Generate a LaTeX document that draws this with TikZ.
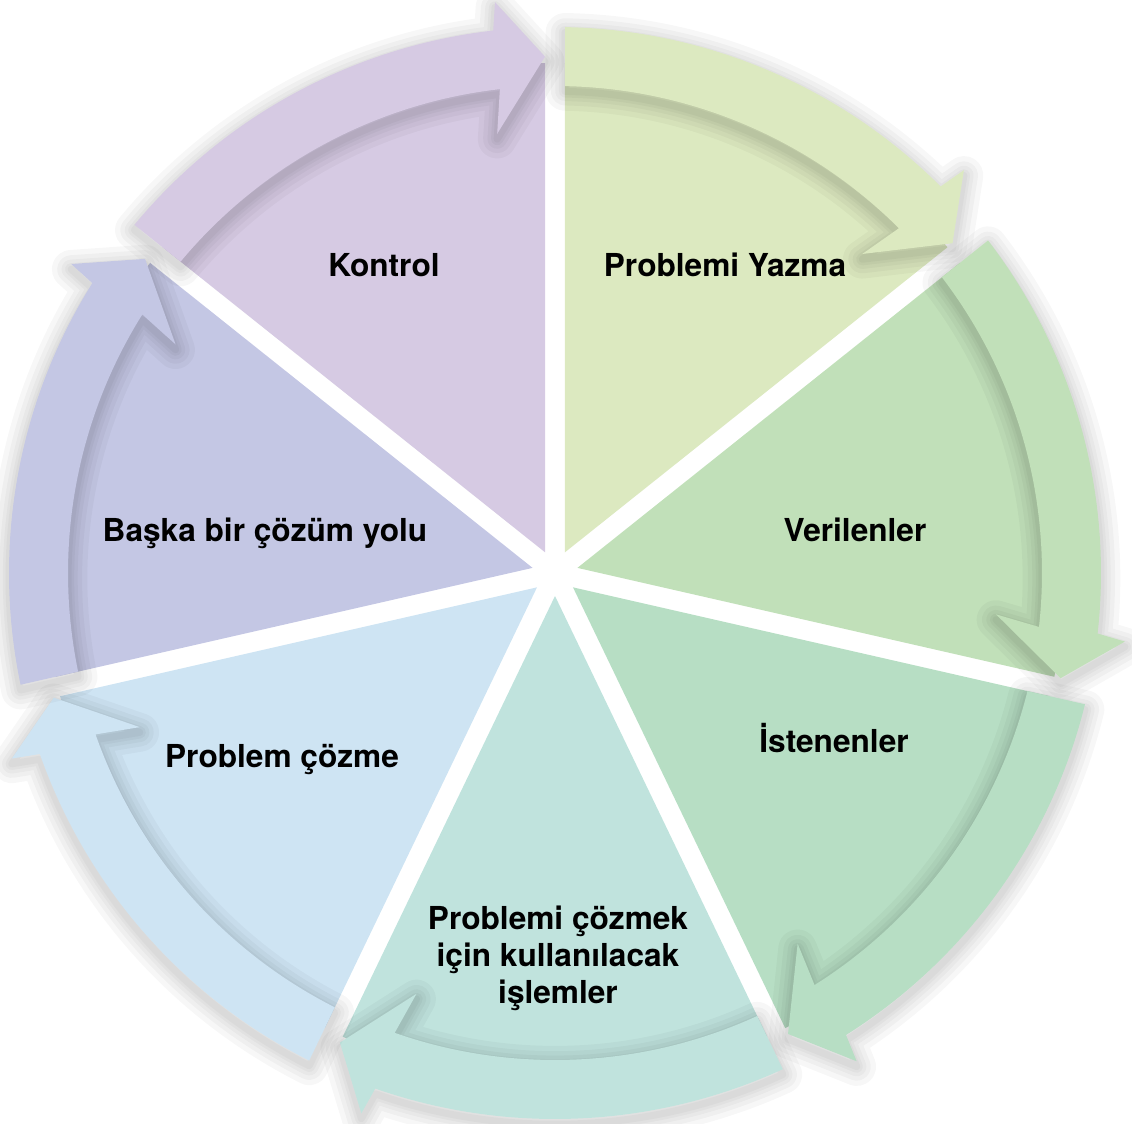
\documentclass[tikz,border=0pt]{standalone}
\usepackage{fontspec}
\setmainfont{TeX Gyre Heros}

\definecolor{kontrol}{HTML}{D6CAE3}
\definecolor{yazma}{HTML}{DCE9C0}
\definecolor{verilen}{HTML}{C1E0B9}
\definecolor{istenen}{HTML}{B7DEC4}
\definecolor{islem}{HTML}{C0E3DD}
\definecolor{cozme}{HTML}{CEE4F3}
\definecolor{baska}{HTML}{C4C7E4}

% one wedge of the wheel: #1 start angle, #2 end angle (clockwise)
\newcommand{\wedgepath}[2]{%
  (#1-25.71:0.46) -- (#1-1.12:10.2)
  arc[start angle=#1-1.12, end angle=#2+1.12, radius=10.2cm] -- cycle}
% the curved arrow on the rim of one wedge
\newcommand{\arrowband}[2]{%
  (#1-1.18:9.74) -- (#1-1.05:10.92)
  arc[start angle=#1-1.05, end angle=#2+6.5, radius=10.92cm]
  -- (#2+6:11.48) -- (#2+1.11:10.33) -- (#2+7.5:8.86) -- (#2+6.5:9.74)
  arc[start angle=#2+6.5, end angle=#1-1.18, radius=9.74cm] -- cycle}

\begin{document}
\begin{tikzpicture}[
  stagetext/.style={font=\fontsize{18}{21}\selectfont\bfseries,
                    align=center, inner sep=0pt},
  glow/.style={draw=black, draw opacity=0.03, line join=round}]
\useasboundingbox (-11.10,-11.00) rectangle (11.54,11.46);

% ============ wedges ============
\foreach \s/\c in {141.43/kontrol, 90/yazma, 38.57/verilen, -12.86/istenen,
                   -64.29/islem, -115.71/cozme, -167.14/baska}{
  \pgfmathsetmacro{\e}{\s-51.43}
  \fill[\c] \wedgepath{\s}{\e};
}

% ============ arrows on the rim, with a soft shadow ============
\foreach \s/\c in {141.43/kontrol, 90/yazma, 38.57/verilen, -12.86/istenen,
                   -64.29/islem, -115.71/cozme, -167.14/baska}{
  \pgfmathsetmacro{\e}{\s-51.43}
  \foreach \w in {22,16,11,7,4}
    \path[glow, line width=\w pt, yshift=-3pt] \arrowband{\s}{\e};
  \fill[\c] \arrowband{\s}{\e};
}

% ============ stage names ============
\node[stagetext, anchor=base] (kontroltxt) at (-3.42,5.92) {Kontrol};
\node[stagetext, anchor=base] (yazmatxt) at (3.40,5.92) {Problemi Yazma};
\node[stagetext, anchor=base] (verilentxt) at (6.00,0.64) {Verilenler};
\node[stagetext, anchor=base] (istenentxt) at (5.58,-3.58) {İstenenler};
\node[stagetext] (islemtxt) at (0.06,-7.70)
  {Problemi çözmek\\için kullanılacak\\işlemler};
\node[stagetext, anchor=base] (cozmetxt) at (-5.46,-3.88) {Problem çözme};
\node[stagetext, anchor=base] (baskatxt) at (-5.80,0.64) {Başka bir çözüm yolu};

\end{tikzpicture}
\end{document}
